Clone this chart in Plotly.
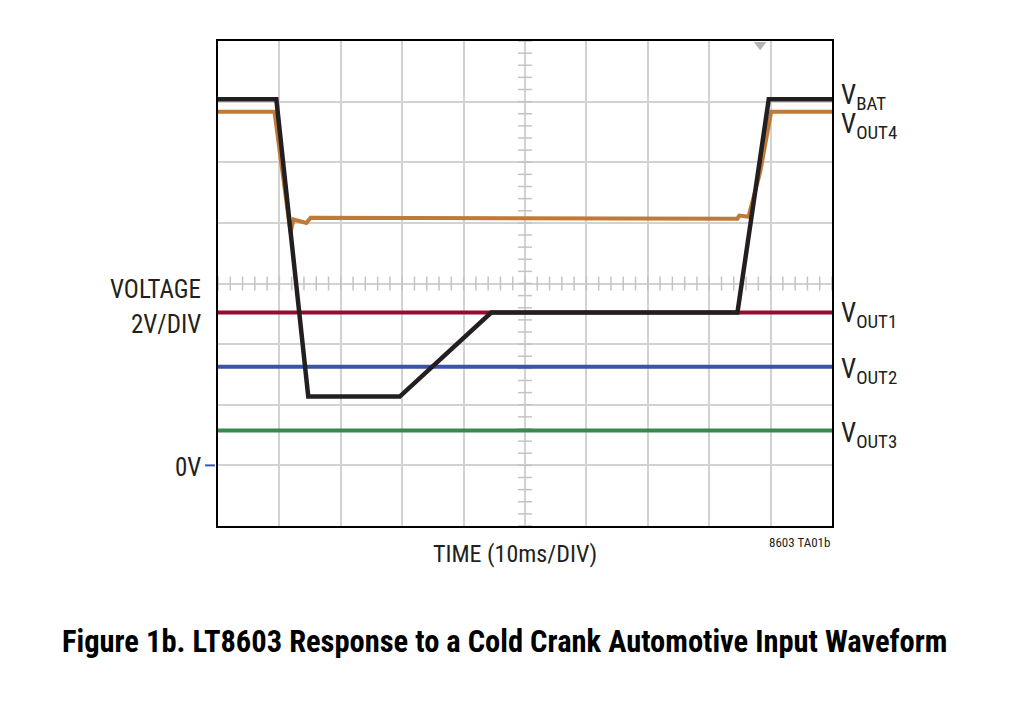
import numpy as np
import plotly.graph_objects as go

# scope capture (time in ms, voltage in V)
t_bat = [0, 9.5, 14.7, 29.6, 44.5, 84.6, 89.7, 100]
v_bat = [12.08, 12.08, 2.27, 2.27, 5.04, 5.04, 12.08, 12.08]

t_out4 = [0, 9.2, 11.8, 12.3, 14.4, 15.1, 84.6, 84.9, 86.4, 88.3, 90.1, 100]
v_out4 = [11.67, 11.67, 7.68, 8.11, 8.0, 8.17, 8.14, 8.24, 8.2, 9.68, 11.67, 11.67]

t_flat = [0, 100]
v_out1 = [5.04, 5.04]
v_out2 = [3.25, 3.25]
v_out3 = [1.15, 1.15]

trigger_t = [88.3]
trigger_v = [13.88]

x_range = [0, 100]
y_range = [-2, 14]
x_div = 10
y_div = 2

FONT = "Liberation Sans Narrow, Roboto Condensed, DejaVu Sans Condensed, sans-serif"
GRID = "#d2d2d2"
TICK = "#c4c4c4"

fig = go.Figure()

# graticule ticks on the centre cross
x_mid = (x_range[0] + x_range[1]) / 2
y_mid = (y_range[0] + y_range[1]) / 2
xt = np.arange(x_range[0], x_range[1] + 0.01, x_div / 5)
yt = np.arange(y_range[0], y_range[1] + 0.01, y_div / 5)
fig.add_trace(go.Scatter(x=xt, y=[y_mid] * len(xt), mode="markers", hoverinfo="skip",
                         marker=dict(symbol="line-ns-open", size=10, color=TICK, line=dict(color=TICK, width=1.5))))
fig.add_trace(go.Scatter(x=[x_mid] * len(yt), y=yt, mode="markers", hoverinfo="skip",
                         marker=dict(symbol="line-ew-open", size=10, color=TICK, line=dict(color=TICK, width=1.5))))

fig.add_trace(go.Scatter(x=t_flat, y=v_out1, mode="lines", line=dict(color="#990a30", width=4)))
fig.add_trace(go.Scatter(x=t_flat, y=v_out2, mode="lines", line=dict(color="#3a55a4", width=4)))
fig.add_trace(go.Scatter(x=t_flat, y=v_out3, mode="lines", line=dict(color="#378a4c", width=4)))
fig.add_trace(go.Scatter(x=t_out4, y=v_out4, mode="lines", line=dict(color="#c07a37", width=4)))
fig.add_trace(go.Scatter(x=t_bat, y=v_bat, mode="lines", line=dict(color="#231f20", width=4.5)))

fig.add_trace(go.Scatter(x=trigger_t, y=trigger_v, mode="markers", hoverinfo="skip", cliponaxis=False,
                         marker=dict(symbol="triangle-down", size=11, color="#b4b4b4")))

fig.update_xaxes(range=x_range, dtick=x_div, showticklabels=False, ticks="",
                 showgrid=True, gridcolor=GRID, gridwidth=2, zeroline=False,
                 showline=True, linecolor="black", linewidth=2, mirror=True)
fig.update_yaxes(range=y_range, dtick=y_div, showticklabels=False, ticks="",
                 showgrid=True, gridcolor=GRID, gridwidth=2, zeroline=False,
                 showline=True, linecolor="black", linewidth=2, mirror=True)

ann = []
right_labels = [("V<sub>BAT</sub>", 12.27), ("V<sub>OUT4</sub>", 11.33), ("V<sub>OUT1</sub>", 5.1),
                ("V<sub>OUT2</sub>", 3.25), ("V<sub>OUT3</sub>", 1.14)]
for txt, yv in right_labels:
    ann.append(dict(text=txt, x=1, xref="paper", y=yv, yref="y", xanchor="left", yanchor="middle",
                    xshift=7, yshift=-4, showarrow=False, font=dict(size=27, color="#231f20", family=FONT)))

ann += [
    dict(text="VOLTAGE", x=0, xref="paper", y=y_mid, yref="y", xanchor="right", yanchor="middle",
         xshift=-15, yshift=-6, showarrow=False, font=dict(size=25, color="#231f20", family=FONT)),
    dict(text="2V/DIV", x=0, xref="paper", y=y_mid, yref="y", xanchor="right", yanchor="middle",
         xshift=-15, yshift=-41, showarrow=False, font=dict(size=25, color="#231f20", family=FONT)),
    dict(text="0V", x=0, xref="paper", y=0, yref="y", xanchor="right", yanchor="middle",
         xshift=-15, yshift=-2, showarrow=False, font=dict(size=25, color="#231f20", family=FONT)),
    dict(text="TIME (10ms/DIV)", x=0.483, xref="paper", y=0, yref="paper", xanchor="center", yanchor="top",
         yshift=-12, showarrow=False, font=dict(size=24, color="#231f20", family=FONT)),
    dict(text="8603 TA01b", x=1, xref="paper", y=0, yref="paper", xanchor="right", yanchor="top",
         yshift=-7, showarrow=False, font=dict(size=13, color="#231f20", family=FONT)),
    # title spans the page, so centre it on the page rather than the plot
    dict(text="<b>Figure 1b. LT8603 Response to a Cold Crank Automotive Input Waveform</b>",
         x=(503 - 217) / 614, xref="paper", xanchor="center", y=-0.197, yref="paper", yanchor="top",
         showarrow=False, font=dict(size=30.5, color="#000000", family=FONT)),
]

# page body has a ~7px default margin, so pull the plot area back up/left
fig.update_layout(
    width=1022, height=705,
    margin=dict(l=210, r=198, t=33, b=187),
    plot_bgcolor="white", paper_bgcolor="white",
    showlegend=False,
    annotations=ann,
    shapes=[dict(type="line", xref="paper", yref="y", x0=-0.021, x1=-0.005, y0=0, y1=0,
                 line=dict(color="#3a55a4", width=2))],
)

fig.write_html("out.html")
